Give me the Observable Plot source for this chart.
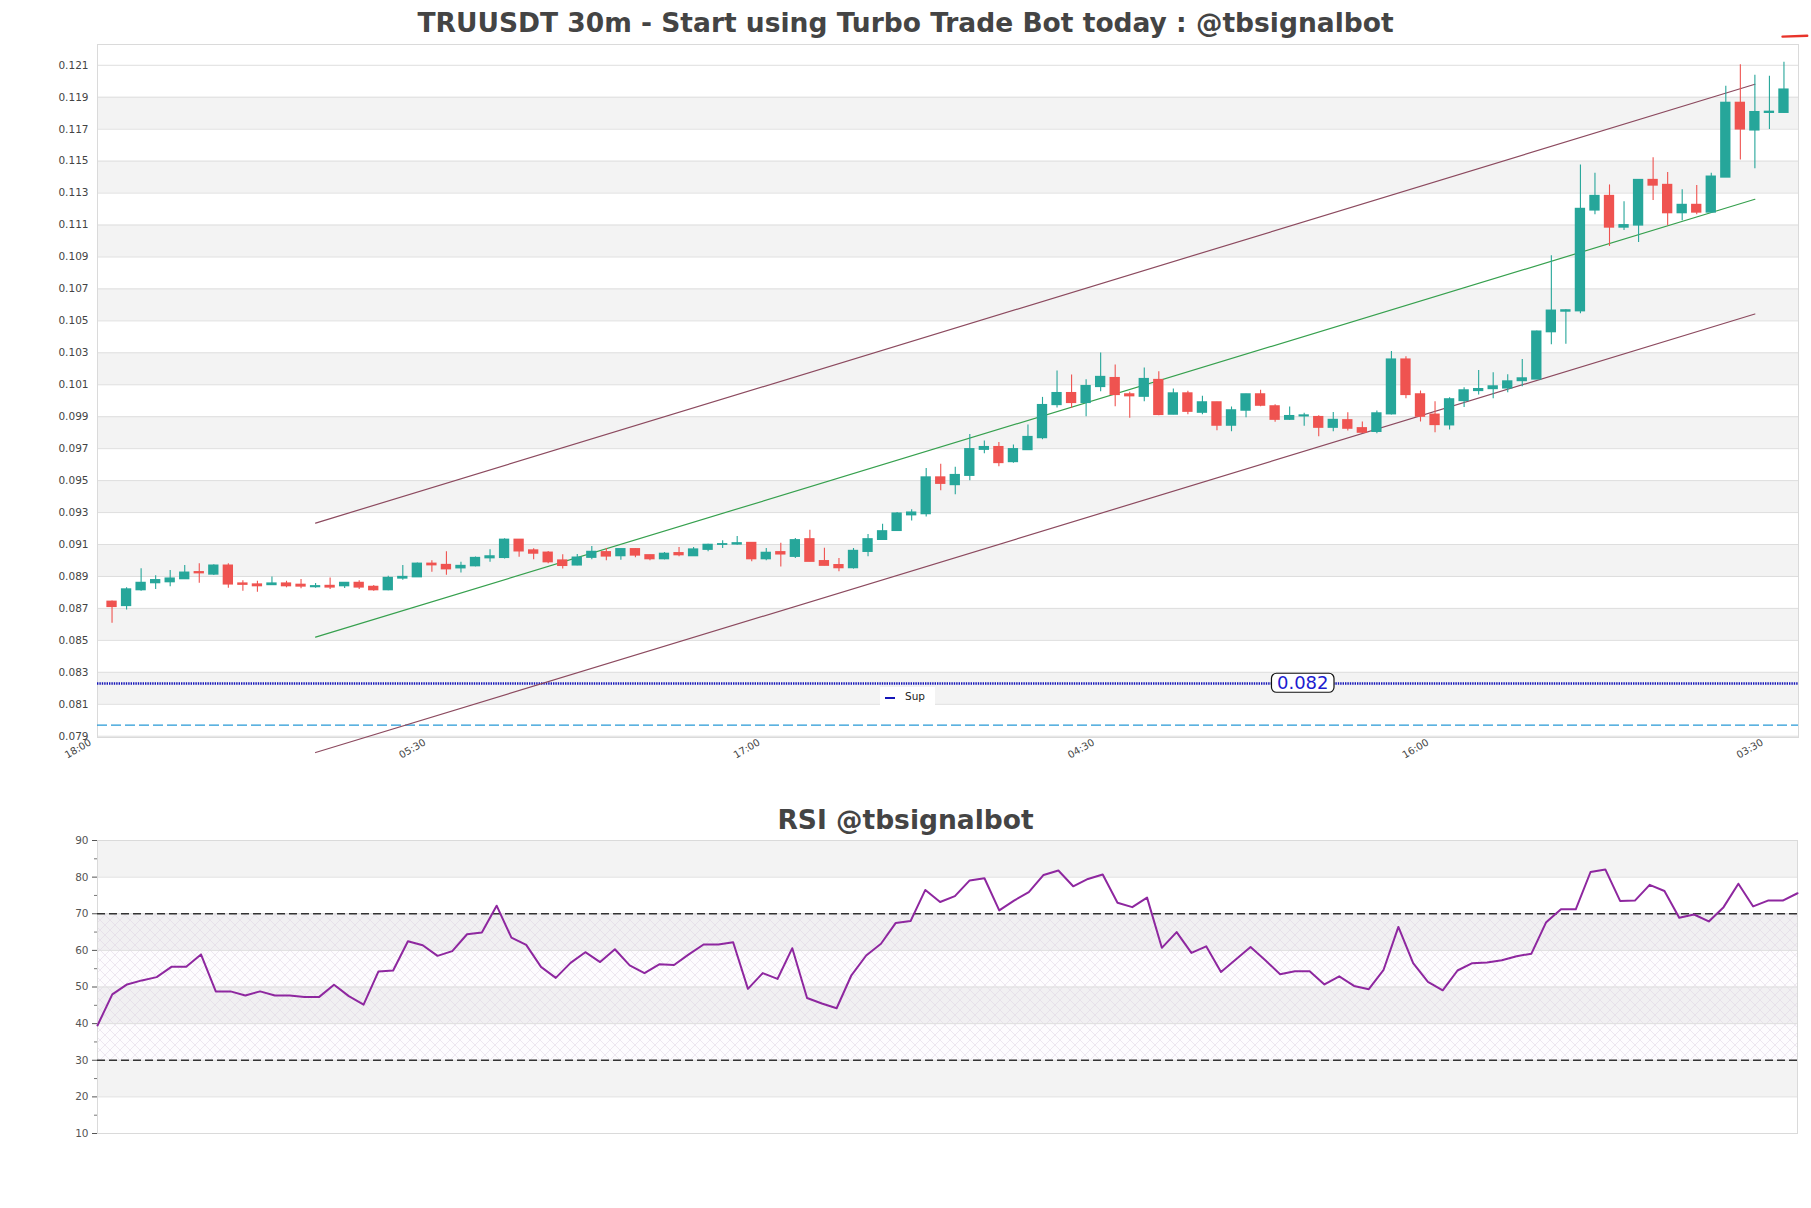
<!DOCTYPE html>
<html><head><meta charset="utf-8">
<script src="https://cdn.jsdelivr.net/npm/d3@7"></script>
<script src="https://cdn.jsdelivr.net/npm/@observablehq/plot@0.6"></script>
<style>
html,body{margin:0;padding:0;background:#fff;}
#wrap{position:relative;width:1811px;height:1208px;font-family:'DejaVu Sans',sans-serif;overflow:hidden;}
.title{position:absolute;left:0;width:1811px;text-align:center;font-weight:bold;font-size:26.5px;line-height:30px;color:#444;z-index:2;white-space:nowrap;}
#main{position:absolute;left:0;top:0;}
#rsi{position:absolute;left:0;top:800px;}
#legend{position:absolute;left:880px;top:687px;width:55px;height:20px;background:#fff;z-index:3;}
#legend .ln{position:absolute;left:5px;top:9.5px;width:10px;height:2.5px;background:#1515b8;}
#legend .tx{position:absolute;left:25px;top:3px;font-size:10.5px;line-height:13px;color:#222;}
svg{overflow:visible;}
</style></head><body>
<div id="wrap">
  <div id="main"></div>
  <div id="rsi"></div>
  <div class="title" style="top:8px">TRUUSDT 30m - Start using Turbo Trade Bot today : @tbsignalbot</div>
  <div class="title" style="top:805px">RSI @tbsignalbot</div>
  <div id="legend"><span class="ln"></span><span class="tx">Sup</span></div>
</div>
<script>
// ---------- data ----------
const openP = [
.08742,.08715,.08814,.08858,.08864,.08883,.08927,.08912,.08968,.08856,
.08850,.08846,.08856,.08848,.08833,.08841,.08839,.08860,.08835,.08814,
.08887,.08895,.08980,.08972,.08951,.08964,.09014,.09016,.09130,.09063,
.09049,.09000,.08969,.09017,.09052,.09027,.09071,.09033,.09008,.09046,
.09027,.09067,.09098,.09100,.09110,.09008,.09052,.09023,.09133,.08996,
.08971,.08952,.09054,.09129,.09185,.09283,.09290,.09520,.09472,.09530,
.09693,.09710,.09616,.09691,.09766,.09973,.10048,.09986,.10086,.10142,
.10040,.10025,.10130,.09913,.10046,.09925,.09990,.09844,.09938,.10040,
.09965,.09881,.09902,.09898,.09831,.09878,.09828,.09805,.09915,.10258,
.10040,.09913,.09846,.09998,.10061,.10073,.10077,.10123,.10133,.10429,
.10558,.10560,.11191,.11282,.11084,.11097,.11382,.11351,.11174,.11226,
.11178,.11397,.11865,.11692,.11802,.11802];
const highP = [
.08746,.08829,.08949,.08904,.08937,.08968,.08980,.08974,.08980,.08873,
.08870,.08897,.08870,.08881,.08856,.08891,.08860,.08873,.08844,.08902,
.08968,.08985,.08999,.09055,.08989,.09022,.09068,.09136,.09130,.09074,
.09057,.09036,.09037,.09088,.09075,.09071,.09075,.09033,.09050,.09081,
.09081,.09102,.09123,.09150,.09110,.09075,.09108,.09138,.09190,.09077,
.09013,.09075,.09163,.09227,.09300,.09317,.09576,.09603,.09583,.09789,
.09748,.09739,.09723,.09848,.10021,.10186,.10161,.10132,.10299,.10224,
.10053,.10205,.10182,.10073,.10059,.10028,.09990,.09961,.10040,.10065,
.09975,.09961,.09921,.09906,.09927,.09925,.09867,.09936,.10308,.10275,
.10061,.09994,.10019,.10081,.10190,.10175,.10163,.10258,.10437,.10908,
.10570,.11476,.11424,.11351,.11245,.11382,.11521,.11428,.11320,.11347,
.11424,.11969,.12104,.12038,.12031,.12119];
const lowP = [
.08607,.08690,.08808,.08819,.08835,.08883,.08858,.08906,.08827,.08808,
.08802,.08844,.08829,.08823,.08827,.08819,.08825,.08819,.08808,.08810,
.08877,.08895,.08927,.08908,.08922,.08960,.08989,.09010,.09020,.09005,
.08980,.08947,.08967,.09004,.08998,.09002,.09017,.08998,.09004,.09023,
.09025,.09054,.09075,.09096,.08992,.08998,.08960,.09013,.08992,.08967,
.08929,.08946,.09023,.09129,.09185,.09248,.09273,.09436,.09411,.09499,
.09668,.09587,.09608,.09691,.09756,.09954,.09952,.09900,.10057,.09963,
.09890,.09994,.09906,.09913,.09913,.09913,.09812,.09806,.09894,.09963,
.09865,.09877,.09840,.09775,.09806,.09811,.09794,.09794,.09911,.10013,
.09867,.09800,.09817,.09957,.10036,.10013,.10050,.10088,.10133,.10350,
.10354,.10545,.11164,.10966,.11066,.10991,.11253,.11095,.11126,.11164,
.11174,.11397,.11507,.11453,.11698,.11798];
const closeP = [
.08709,.08819,.08860,.08877,.08887,.08924,.08920,.08968,.08850,.08848,
.08839,.08856,.08839,.08837,.08839,.08831,.08860,.08831,.08814,.08891,
.08897,.08980,.08970,.08945,.08966,.09016,.09026,.09130,.09057,.09043,
.08989,.08966,.09018,.09054,.09025,.09071,.09031,.09008,.09042,.09033,
.09069,.09098,.09102,.09108,.09008,.09048,.09038,.09127,.08992,.08967,
.08952,.09060,.09133,.09183,.09294,.09300,.09520,.09480,.09535,.09697,
.09710,.09610,.09697,.09773,.09973,.10048,.09986,.10092,.10149,.10036,
.10028,.10136,.09911,.10046,.09931,.09990,.09844,.09940,.10040,.09969,
.09881,.09904,.09908,.09831,.09880,.09825,.09800,.09921,.10258,.10036,
.09900,.09848,.10009,.10065,.10073,.10090,.10121,.10140,.10433,.10564,
.10566,.11201,.11282,.11084,.11099,.11382,.11347,.11174,.11226,.11178,
.11403,.11865,.11698,.11807,.11809,.11948];

const rsiValues = [
39.5,48.0,50.7,51.8,52.7,55.5,55.5,58.9,48.8,48.8,
47.7,48.8,47.7,47.7,47.3,47.3,50.6,47.5,45.2,54.2,
54.5,62.5,61.4,58.5,59.8,64.4,64.9,72.2,63.5,61.5,
55.5,52.5,56.6,59.5,56.8,60.3,55.9,53.8,56.2,56.0,
58.9,61.6,61.6,62.2,49.5,53.8,52.2,60.6,47.0,45.5,
44.2,53.2,58.6,61.8,67.5,68.0,76.5,73.2,74.8,79.1,
79.7,70.9,73.6,75.9,80.6,81.8,77.5,79.5,80.7,73.0,
71.8,74.4,60.7,65.0,59.3,61.1,54.1,57.5,60.9,57.3,
53.5,54.3,54.3,50.7,52.9,50.3,49.4,54.7,66.4,56.5,
51.4,49.1,54.5,56.5,56.7,57.3,58.4,59.1,67.7,71.2,
71.2,81.4,82.1,73.5,73.6,77.9,76.2,68.9,69.8,67.9,
71.8,78.2,72.0,73.6,73.6,75.6];

const priceTicks = [0.079,0.081,0.083,0.085,0.087,0.089,0.091,0.093,0.095,0.097,0.099,
  0.101,0.103,0.105,0.107,0.109,0.111,0.113,0.115,0.117,0.119,0.121];
const timeTickIndex = [-1, 22, 45, 68, 91, 114];
const timeTickLabels = ["18:00","05:30","17:00","04:30","16:00","03:30"];

const trendX = [14, 113];
const upperChannel = [0.09234, 0.11981];
const midChannel = [0.0852, 0.11261];
const lowerChannel = [0.07798, 0.10543];

const supportLevel = [0.0823];
const supportLabelX = [81.9];
const supportLabelText = ["0.082"];
const lowerLevel = [0.0797];

const markX = [114.9, 116.6];
const markY = [0.12279, 0.12285];

const rsiTicks = [10,20,30,40,50,60,70,80,90];
const rsiMinorTicks = [15,25,35,45,55,65,75,85];
const rsiBounds = [30, 70];

// ---------- build ----------
const UP = "#26a69a", DOWN = "#ef5350";
const candles = openP.map((o, i) => ({i, o, h: highP[i], l: lowP[i], c: closeP[i]}));
const colorOf = d => d.c >= d.o ? UP : DOWN;
const xDomain = [-1, 116];
const mainBands = priceTicks.slice(0, -1).map((t, j) => [t, priceTicks[j + 1]]).filter((_, j) => j % 2 === 1);
const rsiBands = rsiTicks.slice(0, -1).map((t, j) => [t, rsiTicks[j + 1]]).filter((_, j) => j % 2 === 1);
const font = "'DejaVu Sans', sans-serif";

const mainSvg = Plot.plot({
  width: 1811, height: 780,
  marginLeft: 97, marginRight: 13, marginTop: 44, marginBottom: 43,
  x: {domain: xDomain, label: null},
  y: {domain: [0.07892, 0.1223], label: null},
  color: {type: "identity"},
  style: {fontFamily: font, background: "transparent", overflow: "visible"},
  marks: [
    Plot.rect(mainBands, {x1: () => xDomain[0], x2: () => xDomain[1], y1: d => d[0], y2: d => d[1], fill: "#f3f3f3"}),
    Plot.gridY(priceTicks, {stroke: "#dedede", strokeOpacity: 1}),
    Plot.frame({stroke: "#dadada"}),
    Plot.axisY(priceTicks, {tickSize: 0, tickPadding: 9, fontSize: 10.5, tickFormat: d3.format(".3f"), color: "#444", label: null}),
    Plot.axisX(timeTickIndex, {tickSize: 0, tickPadding: 4, tickRotate: -30, fontSize: 10, color: "#444", label: null, dx: -7,
      tickFormat: d => timeTickLabels[timeTickIndex.indexOf(d)]}),
    Plot.ruleY(lowerLevel, {stroke: "#2799d6", strokeWidth: 1.2, strokeDasharray: "10,4"}),
    Plot.ruleY(supportLevel, {stroke: "#1515b8", strokeWidth: 2.6, strokeDasharray: "1.4,1"}),
    Plot.line(trendX, {x: d => d, y: (d, j) => upperChannel[j], stroke: "#8c4a5f", strokeWidth: 1.2}),
    Plot.line(trendX, {x: d => d, y: (d, j) => midChannel[j], stroke: "#36a04e", strokeWidth: 1.2}),
    Plot.line(trendX, {x: d => d, y: (d, j) => lowerChannel[j], stroke: "#8c4a5f", strokeWidth: 1.2}),
    Plot.ruleX(candles, {x: "i", y1: "l", y2: "h", stroke: colorOf, strokeWidth: 1.1}),
    Plot.rect(candles, {x1: d => d.i - 0.355, x2: d => d.i + 0.355, y1: d => Math.min(d.o, d.c), y2: d => Math.max(d.o, d.c),
      fill: colorOf, insetTop: -0.6, insetBottom: -0.6}),
    Plot.text(supportLabelText, {x: (d, j) => supportLabelX[j], y: (d, j) => supportLevel[j], text: d => d,
      fontSize: 18, fill: "#1c1ccf", lineAnchor: "middle", className: "suplabel"}),
    Plot.line(markX, {x: d => d, y: (d, j) => markY[j], stroke: "#e8332a", strokeWidth: 2.4})
  ]
});
document.getElementById("main").appendChild(mainSvg);

// rounded box behind the support label (same local frame as the text)
d3.select(mainSvg).selectAll("g.suplabel text").each(function() {
  const bb = this.getBBox();
  const cy = bb.y + bb.height / 2;
  const r = d3.select(this.parentNode).insert("rect", "text")
    .attr("x", bb.x - 5.5).attr("y", cy - 9.5)
    .attr("width", bb.width + 11).attr("height", 19)
    .attr("rx", 5).attr("ry", 5)
    .attr("fill", "#fff").attr("stroke", "#111").attr("stroke-width", 1.2);
  const tr = this.getAttribute("transform");
  if (tr) r.attr("transform", tr);
  const tx = this.getAttribute("x"), ty = this.getAttribute("y");
  if (tx != null && !tr) { /* x/y positioned text: bbox already in parent frame */ }
});

const rsiSvg = Plot.plot({
  width: 1811, height: 350,
  marginLeft: 97, marginRight: 14, marginTop: 40, marginBottom: 17,
  x: {domain: [0, rsiValues.length - 1], axis: null, label: null},
  y: {domain: [10, 90], label: null},
  style: {fontFamily: font, background: "transparent", overflow: "visible"},
  marks: [
    Plot.rect(rsiBands, {x1: () => 0, x2: () => rsiValues.length - 1, y1: d => d[0], y2: d => d[1], fill: "#f3f3f3"}),
    Plot.rect([rsiBounds], {x1: () => 0, x2: () => rsiValues.length - 1, y1: d => d[0], y2: d => d[1], fill: "rgba(170,120,200,0.02)"}),
    Plot.rect([rsiBounds], {x1: () => 0, x2: () => rsiValues.length - 1, y1: d => d[0], y2: d => d[1], fill: "url(#rsiHatch)"}),
    Plot.gridY(rsiTicks, {stroke: "#dedede", strokeOpacity: 1}),
    Plot.frame({stroke: "#dadada"}),
    Plot.ruleY(rsiBounds, {stroke: "#333", strokeWidth: 1.3, strokeDasharray: "8,4"}),
    Plot.axisY(rsiTicks, {tickSize: 5, tickPadding: 4, fontSize: 10.5, color: "#555", label: null}),
    Plot.axisY(rsiMinorTicks, {tickSize: 3, tickFormat: () => "", color: "#777", label: null}),
    Plot.line(rsiValues, {x: (d, i) => i, y: d => d, stroke: "#8e279f", strokeWidth: 2})
  ]
});
const defs = d3.select(rsiSvg).insert("defs", ":first-child");
const pat = defs.append("pattern").attr("id", "rsiHatch").attr("patternUnits", "userSpaceOnUse")
  .attr("width", 10).attr("height", 10);
pat.append("path").attr("d", "M0,0L10,10M-5,5L5,15M5,-5L15,5").attr("stroke", "#ddd2e3").attr("stroke-width", 0.5).attr("fill", "none");
pat.append("path").attr("d", "M10,0L0,10M5,-5L-5,5M15,5L5,15").attr("stroke", "#ddd2e3").attr("stroke-width", 0.5).attr("fill", "none");
document.getElementById("rsi").appendChild(rsiSvg);
</script>
</body></html>
